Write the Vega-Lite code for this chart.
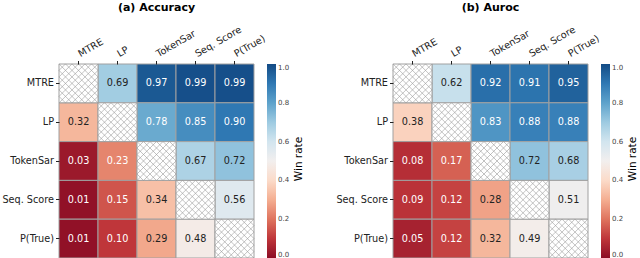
{
  "$schema": "https://vega.github.io/schema/vega-lite/v6.json",
  "padding": {"left": 1, "top": 2, "right": 0, "bottom": 0},
  "autosize": {"type": "pad"},
  "config": {
    "view": {"stroke": null},
    "font": "DejaVu Sans",
    "axis": {"labelFont": "DejaVu Sans", "labelFontSize": 9.7, "labelColor": "#222", "tickColor": "#222", "grid": false, "domain": false, "tickSize": 3.5, "title": null}
  },
  "data": {"values": [
    {"m": "Accuracy", "r": "MTRE", "c": "MTRE", "v": null},
    {"m": "Accuracy", "r": "MTRE", "c": "LP", "v": 0.69},
    {"m": "Accuracy", "r": "MTRE", "c": "TokenSar", "v": 0.97},
    {"m": "Accuracy", "r": "MTRE", "c": "Seq. Score", "v": 0.99},
    {"m": "Accuracy", "r": "MTRE", "c": "P(True)", "v": 0.99},
    {"m": "Accuracy", "r": "LP", "c": "MTRE", "v": 0.32},
    {"m": "Accuracy", "r": "LP", "c": "LP", "v": null},
    {"m": "Accuracy", "r": "LP", "c": "TokenSar", "v": 0.78},
    {"m": "Accuracy", "r": "LP", "c": "Seq. Score", "v": 0.85},
    {"m": "Accuracy", "r": "LP", "c": "P(True)", "v": 0.90},
    {"m": "Accuracy", "r": "TokenSar", "c": "MTRE", "v": 0.03},
    {"m": "Accuracy", "r": "TokenSar", "c": "LP", "v": 0.23},
    {"m": "Accuracy", "r": "TokenSar", "c": "TokenSar", "v": null},
    {"m": "Accuracy", "r": "TokenSar", "c": "Seq. Score", "v": 0.67},
    {"m": "Accuracy", "r": "TokenSar", "c": "P(True)", "v": 0.72},
    {"m": "Accuracy", "r": "Seq. Score", "c": "MTRE", "v": 0.01},
    {"m": "Accuracy", "r": "Seq. Score", "c": "LP", "v": 0.15},
    {"m": "Accuracy", "r": "Seq. Score", "c": "TokenSar", "v": 0.34},
    {"m": "Accuracy", "r": "Seq. Score", "c": "Seq. Score", "v": null},
    {"m": "Accuracy", "r": "Seq. Score", "c": "P(True)", "v": 0.56},
    {"m": "Accuracy", "r": "P(True)", "c": "MTRE", "v": 0.01},
    {"m": "Accuracy", "r": "P(True)", "c": "LP", "v": 0.10},
    {"m": "Accuracy", "r": "P(True)", "c": "TokenSar", "v": 0.29},
    {"m": "Accuracy", "r": "P(True)", "c": "Seq. Score", "v": 0.48},
    {"m": "Accuracy", "r": "P(True)", "c": "P(True)", "v": null},
    {"m": "Auroc", "r": "MTRE", "c": "MTRE", "v": null},
    {"m": "Auroc", "r": "MTRE", "c": "LP", "v": 0.62},
    {"m": "Auroc", "r": "MTRE", "c": "TokenSar", "v": 0.92},
    {"m": "Auroc", "r": "MTRE", "c": "Seq. Score", "v": 0.91},
    {"m": "Auroc", "r": "MTRE", "c": "P(True)", "v": 0.95},
    {"m": "Auroc", "r": "LP", "c": "MTRE", "v": 0.38},
    {"m": "Auroc", "r": "LP", "c": "LP", "v": null},
    {"m": "Auroc", "r": "LP", "c": "TokenSar", "v": 0.83},
    {"m": "Auroc", "r": "LP", "c": "Seq. Score", "v": 0.88},
    {"m": "Auroc", "r": "LP", "c": "P(True)", "v": 0.88},
    {"m": "Auroc", "r": "TokenSar", "c": "MTRE", "v": 0.08},
    {"m": "Auroc", "r": "TokenSar", "c": "LP", "v": 0.17},
    {"m": "Auroc", "r": "TokenSar", "c": "TokenSar", "v": null},
    {"m": "Auroc", "r": "TokenSar", "c": "Seq. Score", "v": 0.72},
    {"m": "Auroc", "r": "TokenSar", "c": "P(True)", "v": 0.68},
    {"m": "Auroc", "r": "Seq. Score", "c": "MTRE", "v": 0.09},
    {"m": "Auroc", "r": "Seq. Score", "c": "LP", "v": 0.12},
    {"m": "Auroc", "r": "Seq. Score", "c": "TokenSar", "v": 0.28},
    {"m": "Auroc", "r": "Seq. Score", "c": "Seq. Score", "v": null},
    {"m": "Auroc", "r": "Seq. Score", "c": "P(True)", "v": 0.51},
    {"m": "Auroc", "r": "P(True)", "c": "MTRE", "v": 0.05},
    {"m": "Auroc", "r": "P(True)", "c": "LP", "v": 0.12},
    {"m": "Auroc", "r": "P(True)", "c": "TokenSar", "v": 0.32},
    {"m": "Auroc", "r": "P(True)", "c": "Seq. Score", "v": 0.49},
    {"m": "Auroc", "r": "P(True)", "c": "P(True)", "v": null}
  ]},
  "resolve": {"scale": {"color": "independent"}, "legend": {"color": "independent"}},
  "spacing": 30,
  "hconcat": [
    {
      "title": {"text": "(a) Accuracy", "fontSize": 11, "fontWeight": "bold", "font": "DejaVu Sans", "anchor": "middle", "frame": "group", "color": "#000", "offset": 11},
      "width": 195, "height": 194,
      "transform": [{"filter": "datum.m === 'Accuracy'"}],
      "encoding": {
        "x": {"field": "c", "type": "nominal", "sort": ["MTRE", "LP", "TokenSar", "Seq. Score", "P(True)"], "scale": {"paddingInner": 0, "paddingOuter": 0}, "axis": {"orient": "top", "labelAngle": -30, "labelAlign": "left", "labelBaseline": "bottom", "labelPadding": 2, "labelOffset": 3}},
        "y": {"field": "r", "type": "nominal", "sort": ["MTRE", "LP", "TokenSar", "Seq. Score", "P(True)"], "scale": {"paddingInner": 0, "paddingOuter": 0}, "axis": {"labelPadding": 2}}
      },
      "layer": [
        {"transform": [{"filter": "datum.v != null"}], "mark": {"type": "rect", "stroke": "#a0a0a0", "strokeWidth": 1},
         "encoding": {"color": {"field": "v", "type": "quantitative", "scale": {"scheme": "redblue", "domain": [0, 1]},
           "legend": {"title": "Win rate", "direction": "vertical", "gradientLength": 194, "gradientThickness": 9, "values": [0, 0.2, 0.4, 0.6, 0.8, 1], "format": ".1f", "labelFontSize": 7, "labelColor": "#444", "labelOverlap": false, "titleOrient": "right", "titleFontSize": 10.5, "titleFontWeight": "normal", "titleColor": "#000", "offset": 13, "gradientStrokeWidth": 0, "encode": {"title": {"update": {"angle": {"value": 270}, "align": {"value": "center"}, "baseline": {"value": "top"}, "dx": {"value": 2}}}}}}}},
        {"transform": [{"filter": "datum.v == null"}], "mark": {"type": "rect", "fill": "white", "stroke": "#a0a0a0", "strokeWidth": 1}, "encoding": {}},
        {"transform": [{"filter": "datum.v == null"}], "mark": {"type": "point", "shape": "M-1,-1L1,1M-1,-0.667L0.667,1M-1,-0.333L0.333,1M-1,0L0,1M-1,0.333L-0.333,1M-1,0.667L-0.667,1M-0.667,-1L1,0.667M-0.333,-1L1,0.333M0,-1L1,0M0.333,-1L1,-0.333M0.667,-1L1,-0.667M-1,1L1,-1M-0.667,1L1,-0.667M-0.333,1L1,-0.333M0,1L1,0M0.333,1L1,0.333M0.667,1L1,0.667M-1,0.667L0.667,-1M-1,0.333L0.333,-1M-1,0L0,-1M-1,-0.333L-0.333,-1M-1,-0.667L-0.667,-1", "size": 1521, "filled": false, "stroke": "#999", "strokeWidth": 0.6, "opacity": 1}, "encoding": {}},
        {"transform": [{"filter": "datum.v != null"}], "mark": {"type": "text", "fontSize": 9.7, "font": "DejaVu Sans"},
         "encoding": {"text": {"field": "v", "type": "quantitative", "format": ".2f"}, "color": {"condition": {"test": "datum.v < 0.25 || datum.v > 0.75", "value": "white"}, "value": "#222"}}}
      ]
    },
    {
      "title": {"text": "(b) Auroc", "fontSize": 11, "fontWeight": "bold", "font": "DejaVu Sans", "anchor": "middle", "frame": "group", "color": "#000", "offset": 11},
      "width": 195, "height": 194,
      "transform": [{"filter": "datum.m === 'Auroc'"}],
      "encoding": {
        "x": {"field": "c", "type": "nominal", "sort": ["MTRE", "LP", "TokenSar", "Seq. Score", "P(True)"], "scale": {"paddingInner": 0, "paddingOuter": 0}, "axis": {"orient": "top", "labelAngle": -30, "labelAlign": "left", "labelBaseline": "bottom", "labelPadding": 2, "labelOffset": 3}},
        "y": {"field": "r", "type": "nominal", "sort": ["MTRE", "LP", "TokenSar", "Seq. Score", "P(True)"], "scale": {"paddingInner": 0, "paddingOuter": 0}, "axis": {"labelPadding": 2}}
      },
      "layer": [
        {"transform": [{"filter": "datum.v != null"}], "mark": {"type": "rect", "stroke": "#a0a0a0", "strokeWidth": 1},
         "encoding": {"color": {"field": "v", "type": "quantitative", "scale": {"scheme": "redblue", "domain": [0, 1]},
           "legend": {"title": "Win rate", "direction": "vertical", "gradientLength": 194, "gradientThickness": 9, "values": [0, 0.2, 0.4, 0.6, 0.8, 1], "format": ".1f", "labelFontSize": 7, "labelColor": "#444", "labelOverlap": false, "titleOrient": "right", "titleFontSize": 10.5, "titleFontWeight": "normal", "titleColor": "#000", "offset": 13, "gradientStrokeWidth": 0, "encode": {"title": {"update": {"angle": {"value": 270}, "align": {"value": "center"}, "baseline": {"value": "top"}, "dx": {"value": 2}}}}}}}},
        {"transform": [{"filter": "datum.v == null"}], "mark": {"type": "rect", "fill": "white", "stroke": "#a0a0a0", "strokeWidth": 1}, "encoding": {}},
        {"transform": [{"filter": "datum.v == null"}], "mark": {"type": "point", "shape": "M-1,-1L1,1M-1,-0.667L0.667,1M-1,-0.333L0.333,1M-1,0L0,1M-1,0.333L-0.333,1M-1,0.667L-0.667,1M-0.667,-1L1,0.667M-0.333,-1L1,0.333M0,-1L1,0M0.333,-1L1,-0.333M0.667,-1L1,-0.667M-1,1L1,-1M-0.667,1L1,-0.667M-0.333,1L1,-0.333M0,1L1,0M0.333,1L1,0.333M0.667,1L1,0.667M-1,0.667L0.667,-1M-1,0.333L0.333,-1M-1,0L0,-1M-1,-0.333L-0.333,-1M-1,-0.667L-0.667,-1", "size": 1521, "filled": false, "stroke": "#999", "strokeWidth": 0.6, "opacity": 1}, "encoding": {}},
        {"transform": [{"filter": "datum.v != null"}], "mark": {"type": "text", "fontSize": 9.7, "font": "DejaVu Sans"},
         "encoding": {"text": {"field": "v", "type": "quantitative", "format": ".2f"}, "color": {"condition": {"test": "datum.v < 0.25 || datum.v > 0.75", "value": "white"}, "value": "#222"}}}
      ]
    }
  ]
}
